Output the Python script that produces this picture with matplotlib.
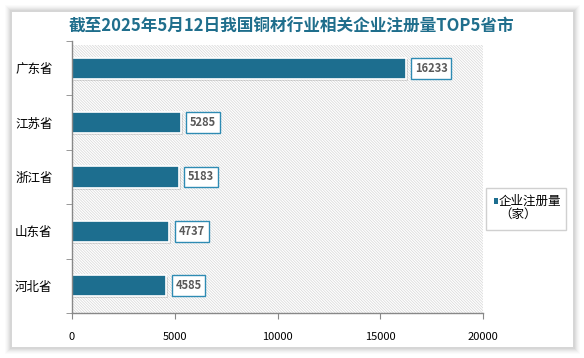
import matplotlib
matplotlib.use("Agg")
import matplotlib.pyplot as plt
from matplotlib.patches import Rectangle

plt.rcParams["font.family"] = ["Noto Sans CJK SC", "DejaVu Sans"]
plt.rcParams["hatch.linewidth"] = 0.5

provinces = ["广东省", "江苏省", "浙江省", "山东省", "河北省"]
counts = [16233, 5285, 5183, 4737, 4585]
xticks = [0, 5000, 10000, 15000, 20000]
title = "截至2025年5月12日我国铜材行业相关企业注册量TOP5省市"
legend_label = "企业注册量\n（家）"

bar_color = "#1d6e8f"
W, H = 584, 358

fig = plt.figure(figsize=(W / 100, H / 100), dpi=100)
fig.patch.set_facecolor("white")

# soft card shadow + card
for i, a in enumerate([0.015, 0.02, 0.025, 0.03, 0.035, 0.04]):
    d = 7 - i
    fig.patches.append(Rectangle(((12 - d) / W, (H - 347 - d) / H),
                                 (561 + 2 * d) / W, (335 + 2 * d) / H,
                                 transform=fig.transFigure, facecolor="black",
                                 alpha=a, edgecolor="none", zorder=0))
fig.patches.append(Rectangle((12 / W, (H - 347) / H), 561 / W, 335 / H,
                             transform=fig.transFigure, facecolor="white",
                             edgecolor="none", zorder=0.5))

fig.text(292 / W, 1 - 27 / H, title, ha="center", va="center", fontsize=12,
         fontweight="bold", color="#1f6e8c")

ax = fig.add_axes([72 / W, 45 / H, (483 - 72) / W, (313 - 41) / H])
ax.set_zorder(2)
ax.set_facecolor("none")
ax.add_patch(Rectangle((0, 0), 1, 0.985, transform=ax.transAxes, facecolor="white",
                       edgecolor="#d6d6d6", hatch="\\" * 12, lw=0, zorder=0))

ypos = list(range(len(provinces)))
# bar shadow
ax.barh([y + 0.035 for y in ypos], [c + 100 for c in counts], height=0.39,
        color="#000000", alpha=0.12, zorder=1)
ax.barh(ypos, counts, height=0.39, color=bar_color, edgecolor="white",
        linewidth=1.2, zorder=2)
for y, c in zip(ypos, counts):
    ax.text(c + 450, y, str(c), ha="left", va="center", fontsize=8,
            fontweight="bold", color="#595959", zorder=4,
            bbox=dict(boxstyle="square,pad=0.35", facecolor="white",
                      edgecolor="#2e8bb3", linewidth=1.0))

ax.set_xlim(0, 20000)
ax.set_ylim(4.5, -0.5)
ax.set_xticks(xticks)
ax.set_xticklabels([str(t) for t in xticks], fontsize=8)
ax.set_yticks(ypos)
ax.set_yticklabels(provinces, fontsize=9)
ax.set_yticks([i - 0.5 for i in range(len(provinces) + 1)], minor=True)
ax.tick_params(axis="y", which="major", length=0, pad=14)
ax.tick_params(axis="y", which="minor", length=4, color="#888888", direction="out")
ax.tick_params(axis="x", length=4, color="#888888", pad=10)
for s in ["top", "right"]:
    ax.spines[s].set_visible(False)
for s in ["left", "bottom"]:
    ax.spines[s].set_color("#888888")
    ax.spines[s].set_linewidth(1.0)

# legend
fig.patches.append(Rectangle((486 / W, (H - 230) / H), 80 / W, 42 / H,
                             transform=fig.transFigure, facecolor="white",
                             edgecolor="#d0d0d0", lw=1.0, zorder=3))
fig.patches.append(Rectangle((494 / W, (H - 204) / H), 4 / W, 6 / H,
                             transform=fig.transFigure, facecolor=bar_color,
                             edgecolor="none", zorder=4))
fig.text(499 / W, 1 - 208 / H, legend_label, ha="left", va="center",
         fontsize=9, linespacing=1.05, color="black", zorder=5)

fig.savefig("out.png", dpi=100, facecolor="white")
